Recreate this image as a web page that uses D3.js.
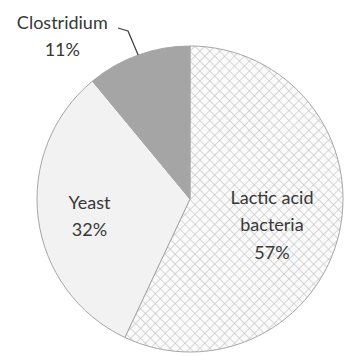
<!DOCTYPE html>
<html>
<head>
<meta charset="utf-8">
<script src="https://cdn.jsdelivr.net/npm/d3@7/dist/d3.min.js"></script>
<style>
  html, body { margin: 0; padding: 0; background: #fff; }
  svg { display: block; }
</style>
</head>
<body>
<svg id="chart" width="347" height="356"></svg>
<script>
// Composition of the microbial community
const categories = ["Lactic acid bacteria", "Yeast", "Clostridium"];
const labelLines = [["Lactic acid", "bacteria"], ["Yeast"], ["Clostridium"]];
const values = [57, 32, 11];
const valueLabels = ["57%", "32%", "11%"];

const width = 347, height = 356;
const cx = 190, cy = 199, R = 153;
const svg = d3.select("#chart");

// Crosshatch fill for the lactic acid slice
const defs = svg.append("defs");
const pat = defs.append("pattern")
  .attr("id", "hatch")
  .attr("patternUnits", "userSpaceOnUse")
  .attr("width", 7).attr("height", 7)
  .attr("patternTransform", "rotate(45)");
pat.append("rect").attr("width", 7).attr("height", 7).attr("fill", "#fbfbfb");
pat.append("line").attr("x1", 0).attr("y1", 0).attr("x2", 0).attr("y2", 7)
  .attr("stroke", "#c4c4c4").attr("stroke-width", 1.3);
pat.append("line").attr("x1", 0).attr("y1", 0).attr("x2", 7).attr("y2", 0)
  .attr("stroke", "#c4c4c4").attr("stroke-width", 1.3);

const fills = ["url(#hatch)", "#f2f2f2", "#a5a5a5"];

const pie = d3.pie().sort(null).value(d => d);
const arcs = pie(values);
const arc = d3.arc().innerRadius(0).outerRadius(R);

const g = svg.append("g").attr("transform", `translate(${cx},${cy})`);

g.selectAll("path.slice")
  .data(arcs)
  .join("path")
  .attr("class", "slice")
  .attr("d", arc)
  .attr("fill", (d, i) => fills[i])
  .attr("stroke", "#a6a6a6")
  .attr("stroke-width", 1);

// Label placement in polar terms: distance from centre and angular nudge (deg)
const fontSize = 18, lineH = 27.5;
const labelPolar = [[86, 5], [102, -2.4], [207, -18.3]];

const rad = Math.PI / 180;
arcs.forEach((a, i) => {
  const mid = (a.startAngle + a.endAngle) / 2;
  const ang = mid + labelPolar[i][1] * rad;
  const x = labelPolar[i][0] * Math.sin(ang);
  const y = -labelPolar[i][0] * Math.cos(ang);
  const lines = labelLines[i].concat([valueLabels[i]]);
  const t = g.append("text")
    .attr("text-anchor", "middle")
    .attr("font-family", "Lato, 'Open Sans', sans-serif")
    .attr("font-size", fontSize)
    .attr("fill", "#383838");
  const y0 = y - (lines.length - 1) * lineH / 2 + fontSize * 0.35;
  lines.forEach((s, k) => {
    t.append("tspan").attr("x", x).attr("y", y0 + k * lineH).text(s);
  });

  if (i === 2) {
    // leader line from the label to the slice edge
    const ex = R * Math.sin(mid), ey = -R * Math.cos(mid);
    const p = d3.path();
    p.moveTo(118 - cx, 28 - cy);
    p.lineTo(128 - cx, 31 - cy);
    p.lineTo(ex, ey);
    g.append("path").attr("d", p.toString())
      .attr("fill", "none").attr("stroke", "#404040").attr("stroke-width", 1.3);
  }
});
</script>
</body>
</html>
